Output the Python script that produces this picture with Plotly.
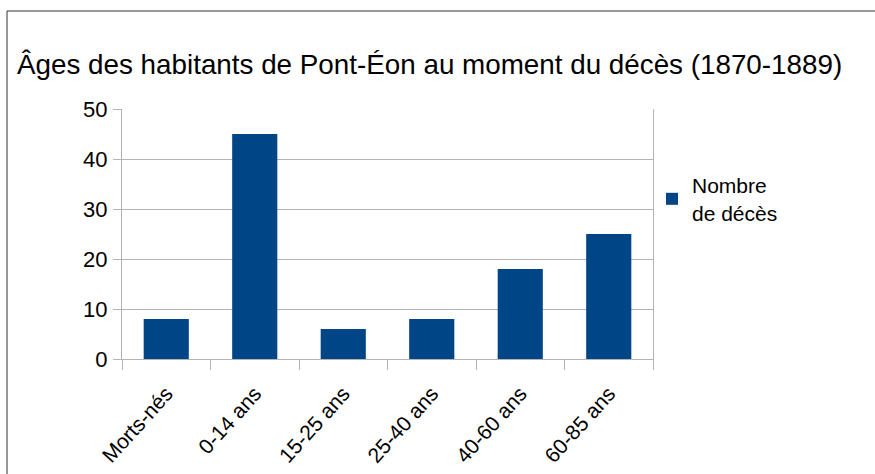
import plotly.graph_objects as go

categories = ["Morts-nés", "0-14 ans", "15-25 ans", "25-40 ans", "40-60 ans", "60-85 ans"]
deaths = [8, 45, 6, 8, 18, 25]
series_name = "Nombre<br>de décès"
title_text = "Âges des habitants de Pont-Éon au moment du décès (1870-1889)"
y_ticks = [0, 10, 20, 30, 40, 50]

FONT = "Liberation Sans, Arial, sans-serif"
GRID = "#b3b3b3"

fig = go.Figure()
fig.add_trace(go.Bar(
    x=categories, y=deaths, name=series_name,
    marker=dict(color="#004586", line=dict(width=0)),
    showlegend=True,
))

W, H = 875, 474
L, R, T, B = 122, 222, 109, 115

fig.update_layout(
    width=W, height=H,
    margin=dict(l=L, r=R, t=T, b=B, pad=0, autoexpand=False),
    paper_bgcolor="white", plot_bgcolor="white",
    font=dict(family=FONT, color="black"),
    bargap=0.49,
    title=dict(text=title_text, x=17 / W, xanchor="left", y=1 - 64 / H, yanchor="middle",
               font=dict(size=27.8, family=FONT, color="black")),
    showlegend=True,
    legend=dict(x=(652 - L) / (W - L - R), y=0.64, xanchor="left", yanchor="middle",
                font=dict(size=21, family=FONT, color="black"),
                itemwidth=30, tracegroupgap=0, bgcolor="rgba(0,0,0,0)"),
    xaxis=dict(
        type="category", tickson="boundaries", ticks="outside", ticklen=10,
        tickcolor=GRID, showgrid=False, showline=True, linecolor=GRID, linewidth=1,
        tickangle=-48, tickfont=dict(size=21, family=FONT, color="black"),
        ticklabelstandoff=13, mirror=False, automargin=False,
    ),
    yaxis=dict(
        range=[0, 50], tickvals=y_ticks, ticks="outside", ticklen=8, tickcolor=GRID,
        showgrid=True, gridcolor=GRID, gridwidth=1, showline=True, linecolor=GRID,
        linewidth=1, mirror=True, zeroline=False, ticklabelstandoff=1, automargin=False,
        tickfont=dict(size=22, family=FONT, color="black"),
    ),
    shapes=[dict(type="rect", xref="paper", yref="paper",
                 x0=(7 - L) / (W - L - R), x1=(W + 20 - L) / (W - L - R),
                 y0=(H - B - (H + 20)) / (H - T - B), y1=(H - B - 11) / (H - T - B),
                 line=dict(color="#333333", width=1), fillcolor="rgba(0,0,0,0)", layer="below")],
)

fig.write_html("out.html", config={"displayModeBar": False},
               post_script="document.body.style.margin='0';")
